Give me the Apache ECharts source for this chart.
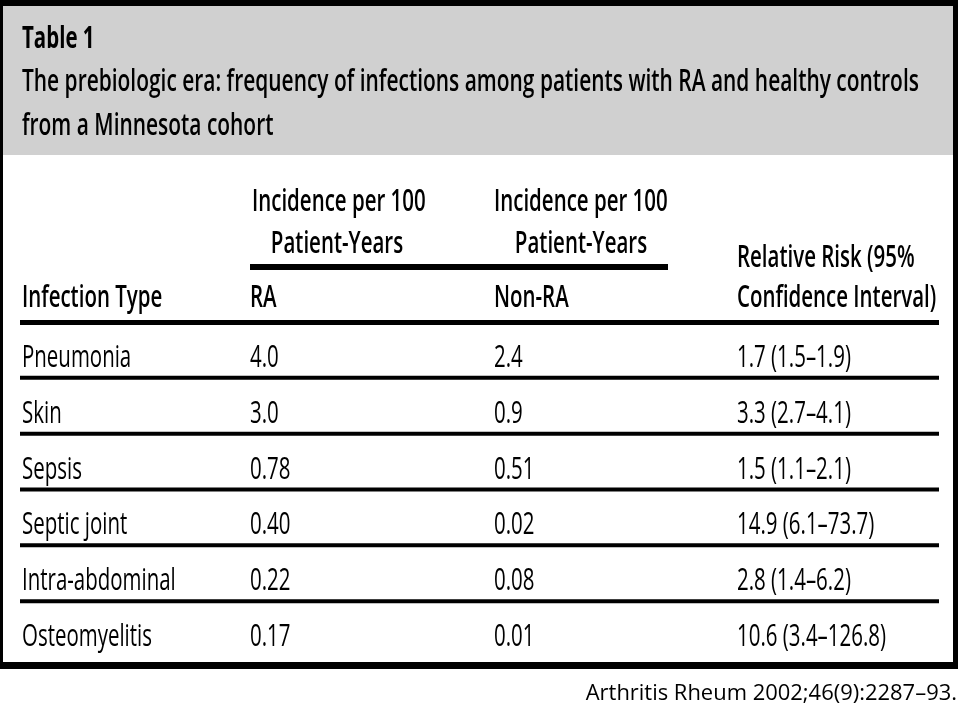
<!DOCTYPE html>
<html><head><meta charset="utf-8">
<script src="https://cdn.jsdelivr.net/npm/echarts@6/dist/echarts.min.js"></script>
<style>html,body{margin:0;padding:0;background:#fff}#c{width:960px;height:710px}</style>
</head><body><div id="c"></div>
<script>
// ---------- data ----------
const titleLines = ['Table 1',
  'The prebiologic era: frequency of infections among patients with RA and healthy controls',
  'from a Minnesota cohort'];
const spanHeaderTop = 'Incidence per 100';
const spanHeaderBottom = 'Patient-Years';
const columnHeaders = ['Infection Type', 'RA', 'Non-RA', 'Confidence Interval)'];
const rrHeaderTop = 'Relative Risk (95%';
const infectionTypes = ['Pneumonia', 'Skin', 'Sepsis', 'Septic joint', 'Intra-abdominal', 'Osteomyelitis'];
const raIncidence = ['4.0', '3.0', '0.78', '0.40', '0.22', '0.17'];
const nonRaIncidence = ['2.4', '0.9', '0.51', '0.02', '0.08', '0.01'];
const relativeRisk = [1.7, 3.3, 1.5, 14.9, 2.8, 10.6];
const ciLow = [1.5, 2.7, 1.1, 6.1, 1.4, 3.4];
const ciHigh = [1.9, 4.1, 2.1, 73.7, 6.2, 126.8];
const citation = 'Arthritis Rheum 2002;46(9):2287\u201393.';

// ---------- layout / style ----------
const FONT = 'Open Sans';
const FS = 31, SX = 0.66, INK = '#000';
const COL_PAD = [10, 1, 8, 14];
const rrText = relativeRisk.map((r, i) => r.toFixed(1) + ' (' + ciLow[i].toFixed(1) + '\u2013' + ciHigh[i].toFixed(1) + ')');
const cells = [infectionTypes, raIncidence, nonRaIncidence, rrText];

function T(x, base, text, opt) {
  opt = opt || {};
  const fs = opt.fs || FS;
  return {
    type: 'text', x: x, y: base - 0.285 * fs, scaleX: opt.sx || SX, z: 10,
    style: { text: text, x: 0, y: 0, fontSize: fs, fontFamily: opt.family || FONT,
      fontWeight: opt.weight || 'normal', fill: INK, align: opt.align || 'left', verticalAlign: 'middle' }
  };
}
const graphic = [
  { type: 'rect', z: 0, shape: { x: 0, y: 0, width: 958, height: 669 }, style: { fill: '#000' } },
  { type: 'rect', z: 1, shape: { x: 3, y: 6, width: 950, height: 656 }, style: { fill: '#fff' } },
  { type: 'rect', z: 2, shape: { x: 3, y: 6, width: 950, height: 149 }, style: { fill: '#d0d0d0' } },
  T(22, 48, titleLines[0], { weight: 700 }),
  T(22, 91, titleLines[1], { weight: 600, sx: 0.675 }),
  T(22, 135, titleLines[2], { weight: 600, sx: 0.675 }),
  T(252, 211, spanHeaderTop, { weight: 600 }),
  T(494, 211, spanHeaderTop, { weight: 600 }),
  T(337, 253, spanHeaderBottom, { weight: 600, align: 'center' }),
  T(581, 253, spanHeaderBottom, { weight: 600, align: 'center' }),
  { type: 'rect', z: 5, shape: { x: 250, y: 264, width: 418, height: 6 }, style: { fill: '#000' } },
  T(737, 267, rrHeaderTop, { weight: 600 }),
  T(22, 307, columnHeaders[0], { weight: 600 }),
  T(250, 307, columnHeaders[1], { weight: 600 }),
  T(494, 307, columnHeaders[2], { weight: 600 }),
  T(737, 307, columnHeaders[3], { weight: 600 }),
  { type: 'text', z: 10, x: 957, y: 694, scaleX: 1.045,
    style: { text: citation, x: 0, y: 0, fontSize: 21, fontFamily: 'Open Sans', fill: '#000', align: 'right', verticalAlign: 'middle' } }
];

function renderItem(params, api) {
  const i = api.value(1);
  const band = api.size([1, 1]);
  const c0 = api.coord([0, i]);
  const rowTop = c0[1] - band[1] / 2;
  const children = [{
    type: 'rect', shape: { x: 20, y: rowTop - 2, width: 919, height: i === 0 ? 5 : 4 }, style: { fill: '#000' }
  }];
  for (let j = 0; j < cells.length; j++) {
    const cx = api.coord([j, i])[0] - band[0] / 2 + COL_PAD[j];
    const base = c0[1] + 17;
    children.push({
      type: 'text', x: cx, y: base - 0.285 * FS, scaleX: SX,
      style: { text: cells[j][i], x: 0, y: 0, fontSize: FS, fontFamily: FONT, fontWeight: 500, fill: INK, align: 'left', verticalAlign: 'middle' }
    });
  }
  return { type: 'group', children: children };
}

const chart = echarts.init(document.getElementById('c'), null, { renderer: 'canvas' });
chart.setOption({
  animation: false,
  backgroundColor: '#fff',
  grid: { left: 12, top: 322, width: 948, height: 335, outerBoundsMode: 'none' },
  xAxis: { type: 'category', data: ['type', 'ra', 'nonra', 'rr'], show: false },
  yAxis: { type: 'category', data: infectionTypes, inverse: true, show: false },
  series: [{ type: 'custom', z: 20, clip: false, data: infectionTypes.map((_, i) => [0, i]), renderItem: renderItem }],
  graphic: graphic
});
</script></body></html>
